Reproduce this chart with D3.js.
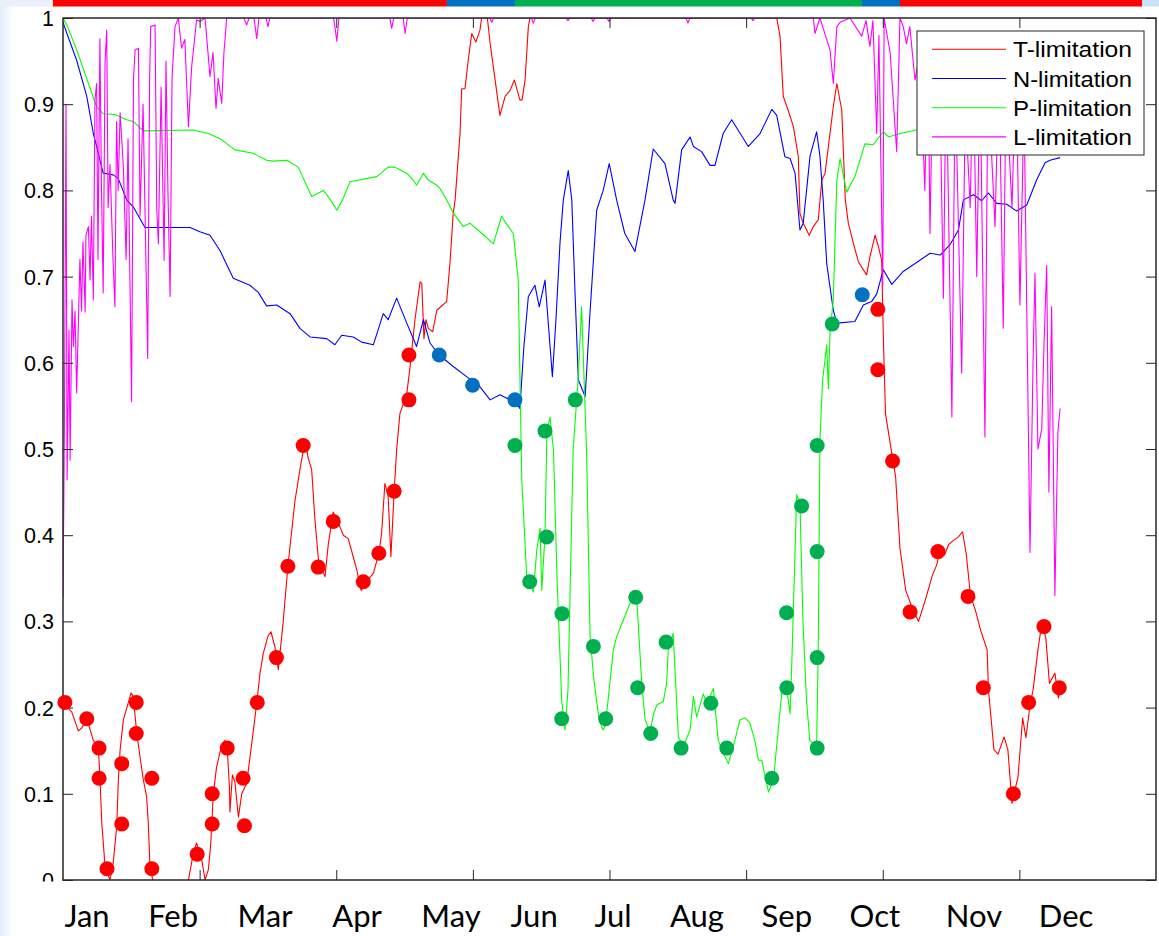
<!DOCTYPE html>
<html>
<head>
<meta charset="utf-8">
<script src="https://cdn.jsdelivr.net/npm/d3@7"></script>
<style>
  html, body { margin: 0; padding: 0; background: #fff; }
  svg { display: block; }
</style>
</head>
<body>
<svg id="chart" width="1159" height="936"></svg>
<script>
// ---- data: day of year vs. limitation factor ----
const tLimitation = [
  [0,0.205],[3.2,0.195],[5.6,0.173],[6.8,0.176],[8.7,0.187],[11.1,0.162],[12.9,0.155],[13.5,0.120],
  [14.2,0.066],[15.4,0.015],[17.2,0.0],[18.4,0.020],[19.7,0.064],[20.2,0.112],[20.9,0.151],[22.1,0.186],
  [23.3,0.199],[24.9,0.217],[25.7,0.213],[27.0,0.170],[28.2,0.143],[29.4,0.116],[30.6,0.097],[31.2,0.066],
  [31.8,0.019],[32.8,0.0],[35.5,-0.03],[42.8,-0.03],[45.9,0.0],[47.7,0.031],[48.9,0.043],[50.8,0.023],
  [52.0,0.0],[53.2,0.012],[54.1,0.043],[55.0,0.100],[56.2,0.131],[58.1,0.157],[59.3,0.162],[60.1,0.153],
  [60.9,0.108],[61.1,0.079],[62.0,0.122],[62.9,0.114],[64.2,0.073],[65.4,0.100],[67.2,0.112],[69.1,0.159],
  [70.9,0.205],[72.1,0.240],[73.3,0.263],[75.0,0.283],[76.1,0.288],[77.6,0.270],[78.8,0.244],[80.6,0.300],
  [82.3,0.364],[84.9,0.440],[86.7,0.476],[88.6,0.510],[89.7,0.490],[91.0,0.476],[92.2,0.418],[93.5,0.371],
  [95.3,0.356],[95.9,0.352],[97.1,0.390],[98.9,0.427],[100.8,0.414],[102.6,0.400],[104.4,0.396],[106.2,0.375],
  [107.5,0.360],[109.1,0.336],[111.1,0.346],[113.6,0.356],[115.6,0.379],[116.6,0.402],[117.8,0.460],[119.0,0.445],
  [120.0,0.375],[121.2,0.451],[122.1,0.499],[123.3,0.541],[125.8,0.564],[127.0,0.595],[128.8,0.650],[130.7,0.694],
  [131.3,0.692],[132.1,0.628],[132.8,0.650],[133.7,0.640],[135.3,0.636],[136.8,0.661],[140.4,0.671],[141.6,0.715],
  [142.8,0.773],[143.5,0.789],[145.3,0.866],[145.9,0.918],[147.1,0.918],[148.3,0.951],[149.6,0.982],[151.1,0.972],
  [152.6,0.986],[153.2,1.0],[155.3,1.0],[156.3,0.971],[157.5,0.943],[159.9,0.887],[161.8,0.909],[163.6,0.916],
  [165.2,0.928],[167.2,0.905],[168.0,0.905],[169.1,0.928],[170.3,0.990],[170.9,1.0],[261.2,1.0],[262.4,0.979],
  [263.6,0.909],[265.4,0.893],[267.3,0.874],[269.1,0.839],[269.7,0.773],[270.9,0.762],[273.1,0.748],[274.6,0.758],
  [276.4,0.766],[277.7,0.812],[278.9,0.820],[281.9,0.897],[283.2,0.924],[285.0,0.893],[286.3,0.789],[287.4,0.762],
  [289.3,0.738],[291.1,0.717],[294.1,0.702],[295.3,0.723],[297.2,0.748],[298.4,0.735],[299.6,0.719],[300.0,0.662],
  [300.3,0.620],[301.0,0.541],[302.9,0.503],[304.7,0.468],[306.3,0.385],[308.4,0.336],[310.9,0.315],[313.1,0.300],
  [315.6,0.325],[318.2,0.354],[319.7,0.365],[321.1,0.383],[322.6,0.377],[324.1,0.389],[325.9,0.394],[327.7,0.398],
  [329.2,0.404],[330.6,0.377],[332.1,0.330],[333.9,0.313],[335.8,0.290],[338.2,0.267],[338.7,0.220],[340.7,0.151],
  [342.2,0.146],[344.4,0.166],[345.8,0.151],[347.3,0.089],[349.5,0.120],[351.2,0.188],[352.4,0.165],[353.9,0.203],
  [355.0,0.220],[356.8,0.267],[358.3,0.300],[359.7,0.280],[361.0,0.228],[363.0,0.240],[364.3,0.211],[364.9,0.220]
];

const nLimitation = [
  [0,0.995],[1.9,0.978],[5.0,0.951],[8.7,0.909],[11.1,0.866],[12.3,0.851],[14.7,0.820],[18.4,0.818],
  [20.2,0.814],[23.3,0.789],[25.7,0.781],[30.0,0.757],[46.5,0.757],[50.1,0.752],[53.8,0.748],[57.5,0.730],
  [62.3,0.698],[68.4,0.690],[71.4,0.682],[74.5,0.666],[78.2,0.667],[83.1,0.657],[86.7,0.640],[90.4,0.630],
  [96.5,0.628],[99.5,0.621],[102.0,0.632],[106.2,0.630],[109.3,0.624],[113.6,0.621],[117.2,0.657],[119.0,0.650],
  [122.1,0.675],[125.8,0.646],[129.4,0.619],[131.9,0.650],[134.3,0.623],[137.7,0.609],[142.7,0.596],[147.7,0.584],
  [152.6,0.572],[156.3,0.557],[159.9,0.563],[162.4,0.559],[165.4,0.557],[167.2,0.547],[168.7,0.620],[170.3,0.677],
  [172.7,0.690],[174.3,0.665],[176.4,0.696],[177.5,0.650],[179.1,0.584],[180.4,0.650],[181.9,0.740],[183.1,0.789],
  [184.9,0.823],[186.2,0.789],[187.4,0.680],[188.6,0.580],[191.1,0.561],[192.9,0.660],[195.3,0.777],[197.7,0.800],
  [199.9,0.831],[202.6,0.789],[205.6,0.750],[209.3,0.729],[213.0,0.789],[216.0,0.848],[220.3,0.831],[223.3,0.789],
  [224.0,0.785],[226.4,0.847],[229.5,0.862],[230.7,0.851],[233.7,0.845],[236.8,0.829],[238.6,0.829],[241.6,0.866],
  [244.7,0.882],[250.8,0.851],[255.1,0.866],[259.4,0.894],[261.2,0.887],[264.2,0.839],[266.1,0.837],[267.9,0.820],
  [269.7,0.754],[270.9,0.762],[273.4,0.840],[275.8,0.868],[277.0,0.840],[278.2,0.789],[279.5,0.715],[281.9,0.661],
  [283.2,0.646],[289.8,0.648],[292.9,0.667],[295.9,0.671],[297.8,0.680],[300.2,0.708],[303.3,0.691],[307.5,0.706],
  [313.6,0.719],[317.3,0.727],[321.0,0.725],[324.6,0.737],[327.7,0.754],[329.5,0.789],[333.2,0.795],[336.2,0.788],
  [338.7,0.797],[341.7,0.785],[345.4,0.784],[349.0,0.776],[352.7,0.783],[356.3,0.812],[359.4,0.832],[361.2,0.835],
  [364.9,0.838]
];

const pLimitation = [
  [0,1.0],[1.4,0.992],[5.0,0.963],[12.3,0.897],[14.7,0.889],[19.0,0.888],[23.3,0.882],[25.7,0.880],
  [29.4,0.869],[47.7,0.870],[53.2,0.866],[57.5,0.860],[62.9,0.847],[69.6,0.843],[74.5,0.835],[77.0,0.834],
  [81.9,0.835],[86.1,0.827],[91.0,0.793],[95.3,0.800],[97.7,0.790],[100.2,0.777],[102.6,0.791],[105.0,0.810],
  [114.8,0.816],[119.0,0.827],[121.5,0.827],[123.3,0.824],[125.8,0.820],[128.2,0.812],[129.4,0.806],[131.9,0.820],
  [133.7,0.812],[136.8,0.806],[138.0,0.802],[140.4,0.789],[142.8,0.774],[146.5,0.758],[148.9,0.762],[152.6,0.752],
  [157.5,0.738],[160.5,0.770],[163.0,0.758],[164.8,0.750],[166.6,0.696],[167.9,0.464],[169.7,0.352],[172.1,0.334],
  [173.4,0.383],[174.6,0.408],[175.2,0.336],[176.4,0.400],[177.1,0.520],[178.2,0.537],[179.5,0.499],[180.8,0.350],
  [182.5,0.209],[183.7,0.174],[184.8,0.220],[186.7,0.499],[188.5,0.580],[189.8,0.665],[190.7,0.580],[191.6,0.499],
  [192.9,0.282],[194.3,0.232],[196.2,0.186],[197.6,0.174],[198.4,0.179],[199.5,0.209],[201.4,0.267],[202.6,0.282],
  [205.1,0.302],[207.5,0.321],[210.0,0.325],[211.8,0.228],[213.0,0.187],[214.8,0.170],[216.0,0.191],[217.3,0.203],
  [219.7,0.207],[220.9,0.228],[221.5,0.267],[223.3,0.286],[225.2,0.166],[227.0,0.155],[229.5,0.174],[230.7,0.213],
  [231.9,0.189],[234.3,0.216],[235.6,0.205],[238.0,0.222],[239.8,0.162],[241.5,0.148],[243.5,0.135],[245.3,0.155],
  [247.8,0.186],[249.6,0.188],[251.4,0.182],[253.3,0.160],[254.5,0.139],[255.7,0.139],[258.2,0.102],[260.0,0.116],
  [263.0,0.216],[264.9,0.220],[266.1,0.193],[266.8,0.260],[268.5,0.447],[269.7,0.437],[270.8,0.300],[272.1,0.209],
  [273.3,0.162],[275.8,0.155],[276.4,0.267],[277.0,0.510],[278.0,0.580],[279.5,0.621],[280.1,0.570],[280.7,0.635],
  [281.9,0.673],[283.2,0.812],[284.4,0.837],[286.8,0.798],[289.8,0.816],[293.5,0.854],[296.5,0.853],[300.2,0.868],
  [302.1,0.862],[306.3,0.866],[312.4,0.870],[324.6,0.876],[342.9,0.880],[364.9,0.882]
];

const lLimitation = [
  [0,0.327],[0.5,0.520],[1.1,0.900],[1.5,0.464],[2.2,0.638],[2.6,0.487],[3.3,0.673],[3.8,0.619],
  [4.4,0.660],[5.0,0.565],[5.5,0.630],[6.2,0.720],[6.8,0.660],[7.3,0.740],[8.1,0.659],[8.4,0.748],
  [9.3,0.758],[9.9,0.696],[10.4,0.770],[11.1,0.673],[11.7,0.905],[12.3,0.924],[12.8,0.720],[13.5,0.976],
  [14.1,0.800],[14.7,0.681],[15.4,0.950],[16.0,0.986],[16.5,0.780],[17.2,0.830],[18.3,0.720],[19.0,0.665],
  [19.6,0.880],[20.2,0.800],[20.9,0.890],[22.1,0.827],[23.1,0.720],[23.8,0.860],[25.1,0.555],[25.8,0.930],
  [26.4,0.963],[27.6,0.965],[28.2,0.770],[29.3,0.900],[31.0,0.605],[31.7,0.930],[32.1,0.990],[33.7,0.992],
  [34.3,0.780],[34.9,0.738],[35.9,0.920],[37.0,0.719],[37.7,0.950],[38.4,0.800],[39.2,0.677],[39.9,0.930],
  [41.0,0.990],[42.2,1.0],[43.4,0.965],[44.6,0.975],[45.9,0.874],[47.1,0.944],[48.9,0.998],[50.1,0.996],
  [52.0,1.0],[53.8,0.932],[54.9,0.960],[56.0,0.895],[56.8,0.930],[58.1,0.901],[58.9,0.960],[59.9,1.0],
  [66.2,1.0],[67.2,0.992],[68.1,1.0],[69.9,1.0],[70.9,0.976],[71.7,1.0],[74.3,1.0],[75.0,0.990],[75.7,1.0],
  [99.0,1.0],[99.5,0.990],[100.2,0.973],[101.0,1.0],[119.6,1.0],[120.3,0.988],[121.0,1.0],[124.5,1.0],
  [125.2,0.982],[126.0,1.0],[156.2,1.0],[156.9,0.995],[157.6,1.0],[171.4,1.0],[172.1,0.994],[172.8,1.0],
  [184.1,1.0],[184.8,0.997],[185.5,1.0],[193.3,1.0],[194.0,0.996],[194.7,1.0],[199.1,1.0],[199.8,0.996],
  [200.5,1.0],[228.0,1.0],[228.7,0.994],[229.4,1.0],[251.8,1.0],[252.5,0.997],[253.2,1.0],[274.6,1.0],
  [275.2,0.982],[277.0,1.0],[280.7,0.963],[281.9,0.924],[283.2,0.990],[284.4,0.995],[288.0,1.0],[292.3,0.979],
  [293.9,0.997],[295.3,0.967],[296.4,0.997],[297.8,0.866],[298.6,0.980],[300.0,0.690],[300.5,1.0],[302.7,0.960],
  [305.1,0.845],[306.3,1.0],[307.5,0.990],[308.7,0.970],[309.9,0.990],[311.8,0.928],[313.6,0.960],[315.4,0.800],
  [316.5,0.970],[317.3,0.750],[318.4,0.960],[321.0,0.900],[322.2,0.675],[323.2,0.950],[325.3,0.537],[326.5,0.930],
  [328.9,0.588],[330.2,0.900],[332.0,0.780],[333.1,0.950],[334.4,0.700],[335.6,0.940],[337.4,0.514],[338.5,0.930],
  [341.1,0.758],[342.5,0.950],[344.1,0.640],[345.1,0.920],[347.3,0.780],[348.8,0.950],[350.2,0.667],[351.7,0.900],
  [353.9,0.380],[355.0,0.600],[355.7,0.704],[356.8,0.500],[358.2,0.524],[359.0,0.620],[360.0,0.713],[360.8,0.450],
  [361.8,0.665],[363.0,0.330],[364.1,0.520],[364.9,0.547]
];

// markers for the dominant limitation on sampled days
const tDots = [
  [0.7,0.206],[8.7,0.187],[13.2,0.153],[13.2,0.118],[16.1,0.013],[21.5,0.135],[21.5,0.065],[26.8,0.206],
  [26.8,0.170],[32.5,0.118],[32.5,0.013],[49.1,0.030],[54.6,0.065],[54.6,0.100],[60.1,0.153],[65.9,0.118],
  [66.4,0.063],[71.1,0.206],[78.1,0.258],[82.3,0.364],[87.9,0.504],[93.4,0.363],[98.9,0.416],[109.9,0.346],
  [115.6,0.379],[121.2,0.451],[126.6,0.557],[126.6,0.609],[298.2,0.662],[298.2,0.592],[303.6,0.486],[310.0,0.311],
  [320.2,0.381],[331.2,0.329],[336.8,0.223],[347.8,0.100],[353.4,0.206],[359.0,0.294],[364.6,0.223]
];
const nDots = [[137.7,0.609],[149.9,0.574],[165.4,0.557],[292.5,0.679]];
const pDots = [
  [165.4,0.504],[170.8,0.346],[176.4,0.521],[177.0,0.398],[182.6,0.309],[182.5,0.187],[187.5,0.557],[194.1,0.271],
  [198.6,0.187],[209.6,0.328],[210.3,0.223],[215.1,0.170],[220.7,0.276],[226.2,0.153],[237.1,0.205],[242.9,0.153],
  [259.4,0.118],[264.8,0.310],[264.9,0.223],[270.3,0.434],[276.0,0.381],[276.0,0.504],[276.0,0.258],[276.0,0.153],
  [281.5,0.645]
];

// dominant-limitation periods shown in the strip above the plot
const phaseStart = [-3.7, 140.5, 165.4, 292.4, 306.3];
const phaseEnd   = [140.5, 165.4, 292.4, 306.3, 394.9];
const phaseKind  = ["T", "N", "P", "N", "T"];

const seriesNames = ["T-limitation", "N-limitation", "P-limitation", "L-limitation"];
const yTickValues = [0, 0.1, 0.2, 0.3, 0.4, 0.5, 0.6, 0.7, 0.8, 0.9, 1];
const yTickLabels = ["0", "0.1", "0.2", "0.3", "0.4", "0.5", "0.6", "0.7", "0.8", "0.9", "1"];
const xTickValues = [50, 100, 150, 200, 250, 300, 350];
const months = ["Jan","Feb","Mar","Apr","May","Jun","Jul","Aug","Sep","Oct","Nov","Dec"];
const monthLabelDays = [8.8, 40.3, 73.9, 107.6, 142.0, 172.4, 201.3, 232.0, 264.9, 297.1, 333.4, 367.1];

// ---- drawing ----
const svg = d3.select("#chart");
const W = 1159, H = 936;
const plot = { left: 63, right: 1156, top: 18, bottom: 880 };

const x = d3.scaleLinear().domain([0, 400]).range([plot.left, plot.right]);
const y = d3.scaleLinear().domain([0, 1]).range([plot.bottom, plot.top]);

const lineColor = { T: "#ff0000", N: "#0000ff", P: "#00ff00", L: "#ff00ff" };
const dotColor  = { T: "#ff0000", N: "#0070c0", P: "#00b050" };

const defs = svg.append("defs");
const grad = defs.append("linearGradient").attr("id", "edge").attr("x1", 0).attr("x2", 1);
grad.append("stop").attr("offset", 0).attr("stop-color", "#e2ecf8");
grad.append("stop").attr("offset", 1).attr("stop-color", "#ffffff");
defs.append("clipPath").attr("id", "plotClip")
  .append("rect").attr("x", plot.left).attr("y", plot.top)
  .attr("width", plot.right - plot.left).attr("height", plot.bottom - plot.top);
defs.append("clipPath").attr("id", "labelClip")
  .append("rect").attr("x", 0).attr("y", 0).attr("width", W).attr("height", plot.bottom + 1.5);

// page background with the soft bluish edge
svg.append("rect").attr("width", W).attr("height", H).attr("fill", "#fff");
svg.append("rect").attr("x", 0).attr("y", 0).attr("width", 14).attr("height", H).attr("fill", "url(#edge)");
svg.append("rect").attr("x", 0).attr("y", 0).attr("width", 54).attr("height", 6.5).attr("fill", "#eaf1fa");
svg.append("rect").attr("x", x(phaseEnd[phaseEnd.length - 1])).attr("y", 0)
  .attr("width", W - x(phaseEnd[phaseEnd.length - 1])).attr("height", 6.5).attr("fill", "#c9e3f6");

// limitation strip
svg.append("g").selectAll("rect").data(phaseKind).join("rect")
  .attr("x", (d, i) => x(phaseStart[i]))
  .attr("width", (d, i) => x(phaseEnd[i]) - x(phaseStart[i]))
  .attr("y", 0).attr("height", 6.5)
  .attr("fill", d => dotColor[d]);

// series lines
const line = d3.line().x(d => x(d[0])).y(d => y(d[1]));
const lines = svg.append("g").attr("clip-path", "url(#plotClip)");
[["T", tLimitation], ["N", nLimitation], ["P", pLimitation], ["L", lLimitation]].forEach(([k, data]) => {
  lines.append("path").datum(data)
    .attr("d", line).attr("fill", "none")
    .attr("stroke", lineColor[k]).attr("stroke-width", 1.1)
    .attr("stroke-linejoin", "round");
});

// axes box with inward ticks on all four sides
const axisColor = "#262626";
const tickLen = 10;
const axes = svg.append("g");
axes.append("g").attr("transform", `translate(0,${plot.bottom})`)
  .call(d3.axisBottom(x).tickValues(xTickValues).tickSize(-tickLen).tickFormat(""));
axes.append("g").attr("transform", `translate(0,${plot.top})`)
  .call(d3.axisTop(x).tickValues(xTickValues).tickSize(-tickLen).tickFormat(""));
axes.append("g").attr("transform", `translate(${plot.left},0)`)
  .call(d3.axisLeft(y).tickValues(yTickValues).tickSize(-tickLen).tickFormat(""));
axes.append("g").attr("transform", `translate(${plot.right},0)`)
  .call(d3.axisRight(y).tickValues(yTickValues).tickSize(-tickLen).tickFormat(""));
axes.selectAll(".domain").remove();
axes.selectAll(".tick line").attr("stroke", axisColor).attr("stroke-width", 1);
axes.append("rect")
  .attr("x", plot.left).attr("y", plot.top)
  .attr("width", plot.right - plot.left).attr("height", plot.bottom - plot.top)
  .attr("fill", "none").attr("stroke", axisColor).attr("stroke-width", 1.5);

// y tick labels
svg.append("g").attr("clip-path", "url(#labelClip)")
  .selectAll("text").data(yTickValues).join("text")
  .attr("x", plot.left - 9)
  .attr("y", d => y(d) + 8)
  .attr("text-anchor", "end")
  .attr("font-family", "'Liberation Sans', Arial, sans-serif")
  .attr("font-size", 21.5)
  .attr("fill", "#000")
  .text((d, i) => yTickLabels[i]);

// markers
const dots = svg.append("g");
[["T", tDots], ["N", nDots], ["P", pDots]].forEach(([k, data]) => {
  dots.append("g").selectAll("circle").data(data).join("circle")
    .attr("cx", d => x(d[0])).attr("cy", d => y(d[1]))
    .attr("r", 7.5).attr("fill", dotColor[k]);
});

// legend
const legend = svg.append("g").attr("transform", "translate(917,31)");
legend.append("rect").attr("width", 227).attr("height", 124)
  .attr("fill", "#fff").attr("stroke", axisColor).attr("stroke-width", 1);
const keys = ["T", "N", "P", "L"];
seriesNames.forEach((name, i) => {
  const yy = 18.3 + i * 29.2;
  legend.append("line").attr("x1", 15).attr("x2", 89).attr("y1", yy).attr("y2", yy)
    .attr("stroke", lineColor[keys[i]]).attr("stroke-width", 1.1);
  legend.append("text")
    .attr("x", 96).attr("y", yy + 8)
    .attr("font-family", "'Liberation Sans', Arial, sans-serif")
    .attr("font-size", 22)
    .attr("textLength", 119).attr("lengthAdjust", "spacingAndGlyphs")
    .attr("fill", "#000")
    .text(name);
});

// month labels
svg.append("g").selectAll("text").data(months).join("text")
  .attr("x", (d, i) => x(monthLabelDays[i]))
  .attr("y", 927)
  .attr("text-anchor", "middle")
  .attr("font-family", "Lato, 'Open Sans', sans-serif")
  .attr("font-size", 31)
  .attr("fill", "#000")
  .text(d => d);
</script>
</body>
</html>
